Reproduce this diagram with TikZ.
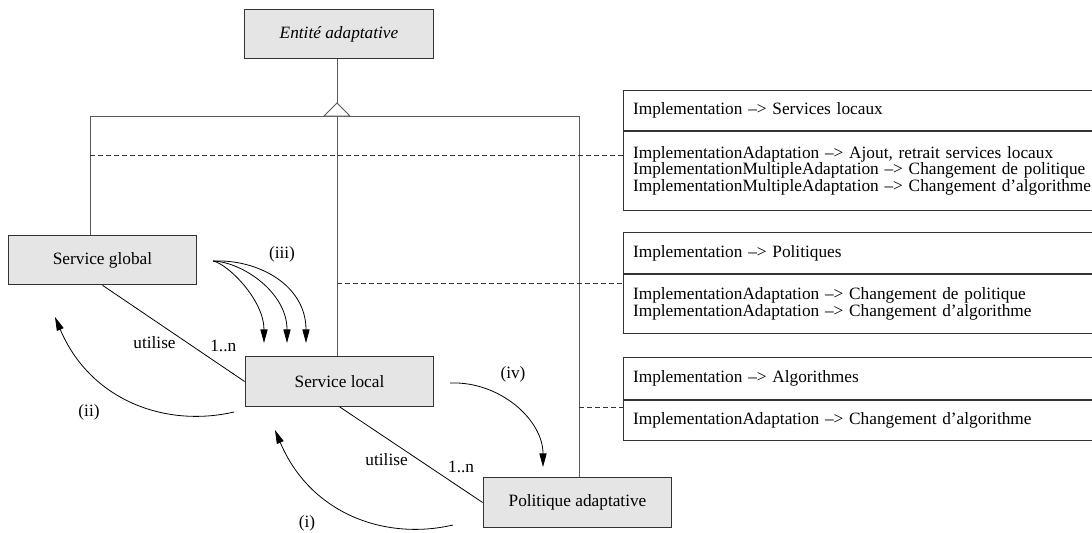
\documentclass[tikz,border=0pt]{standalone}
\usepackage{fontspec}
\setmainfont{Liberation Serif}
\usetikzlibrary{arrows.meta,positioning,calc}

\begin{document}
\begin{tikzpicture}[x=0.625pt, y=-0.625pt, >={Triangle[length=8.5pt,width=4.5pt]},
  every node/.style={font=\fontsize{10.8}{9.8}\selectfont},
  classe/.style={draw=black!80, fill=black!10, line width=0.6pt, minimum width=118pt, minimum height=31pt, inner sep=0pt},
  impl/.style={draw=black!80, line width=0.6pt, anchor=north west, text width=290pt, inner xsep=6pt, inner ysep=0pt, align=left},
  herit/.style={draw=black!65, line width=0.6pt},
  note/.style={draw=black!80, line width=0.6pt, dash pattern=on 3pt off 2pt},
  lien/.style={line width=0.5pt}]
\clip (0,0) rectangle (1092,532);
% classes
\node[classe, font=\fontsize{10.8}{9.8}\selectfont\itshape] (E) at (339,34) {Entité adaptative};
\node[classe] (SG) at (102.5,260) {Service global};
\node[classe] (SL) at (339.5,381.5) {Service local};
\node[classe] (PA) at (577.5,502.5) {Politique adaptative};
% heritage
\coordinate (apex) at (337,103);
\coordinate (jl) at (90,116);
\coordinate (jm) at (337,116);
\coordinate (jr) at (579,116);
\draw[herit] (E.south -| apex) -- (apex);
\draw[herit] (jl) -- (jr);
\draw[herit] (jl) -- (jl |- SG.north);
\draw[herit] (jm) -- (jm |- SL.north);
\draw[herit] (jr) -- (jr |- PA.north);
\draw[herit, fill=white] (apex) -- ++(-13,13) -- ++(26,0) -- cycle;
% implementations
\node[impl, minimum height=25pt] (h1) at (623,90) {Implementation --> Services locaux};
\node[impl, minimum height=49.4pt] (b1) at (h1.south west) {ImplementationAdaptation --> Ajout, retrait services locaux\\
  ImplementationMultipleAdaptation --> Changement de politique\\
  ImplementationMultipleAdaptation --> Changement d'algorithme};
\node[impl, minimum height=25.6pt] (h2) at (623,232) {Implementation --> Politiques};
\node[impl, minimum height=36.9pt] (b2) at (h2.south west) {ImplementationAdaptation --> Changement de politique\\
  ImplementationAdaptation --> Changement d'algorithme};
\node[impl, minimum height=26.2pt] (h3) at (623,357) {Implementation --> Algorithmes};
\node[impl, minimum height=25pt] (b3) at (h3.south west) {ImplementationAdaptation --> Changement d'algorithme};
\coordinate (d1) at (90,155);
\coordinate (d2) at (337,283);
\coordinate (d3) at (579,407);
\draw[note] (d1) -- (d1 -| b1.west);
\draw[note] (d2) -- (d2 -| b2.west);
\draw[note] (d3) -- (d3 -| b3.west);
% associations
\draw[lien] (SG.south) -- (SL.west) node[pos=0.6, left=4pt] {utilise} node[pos=0.85, above=6pt] {1..n};
\draw[lien] (SL.south) -- (PA.west) node[pos=0.55, left=3pt] {utilise} node[pos=0.85, above=6pt] {1..n};
% interactions
\coordinate (s3) at (213,261);
\coordinate (t3a) at (264,343);
\coordinate (t3b) at (287,343);
\coordinate (t3c) at (306,343);
\draw[->, lien] (s3) .. controls (228,264) and (264,300) .. (t3a);
\draw[->, lien] (s3) .. controls (242,262) and (287,292) .. (t3b);
\draw[->, lien] (s3) .. controls (258,259) and (306,285) .. (t3c);
\coordinate (s4) at (450,383);
\coordinate (t4) at (543,467);
\draw[->, lien] (s4) .. controls (500,381) and (543,420) .. (t4);
\coordinate (s2) at (234,412);
\coordinate (t2) at (55,317);
\draw[->, lien] (s2) .. controls (165,428) and (90,400) .. (t2);
\coordinate (s1) at (453,525);
\coordinate (t1) at (275,430);
\draw[->, lien] (s1) .. controls (384,541) and (310,513) .. (t1);
\node (lIII) at (282,254) {(iii)};
\node (lIV) at (513,374) {(iv)};
\node (lII) at (89,412) {(ii)};
\node (lI) at (307,523) {(i)};
\end{tikzpicture}
\end{document}
